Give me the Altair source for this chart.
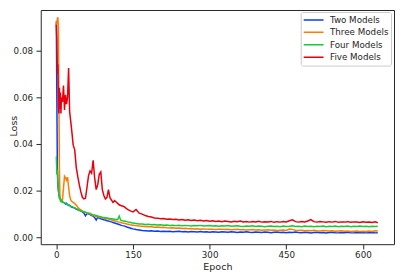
import altair as alt
import pandas as pd

epochs = [0, 1, 2, 3, 4, 5, 6, 7, 8, 9, 10,
          12, 14, 16, 18, 20, 22, 24, 26, 28, 30,
          33, 36, 39, 42, 45, 48, 51, 54, 57, 60,
          63, 66, 69, 72, 75, 78, 81, 84, 87, 90,
          93, 96, 99, 102, 105, 108, 111, 114, 117, 120,
          123, 126, 129, 132, 135, 138, 141, 144, 147, 150,
          156, 162, 168, 174, 180, 186, 192, 198, 204, 210,
          216, 222, 228, 234, 240, 246, 252, 258, 264, 270,
          276, 282, 288, 294, 300, 306, 312, 318, 324, 330,
          336, 342, 348, 354, 360, 366, 372, 378, 384, 390,
          396, 402, 408, 414, 420, 426, 432, 438, 444, 450,
          456, 462, 468, 474, 480, 486, 492, 498, 504, 510,
          516, 522, 528, 534, 540, 546, 552, 558, 564, 570,
          576, 582, 588, 594, 600, 606, 612, 618, 624, 629]

two_models = [0.0925, 0.0600, 0.0300, 0.0230, 0.0200, 0.0185, 0.0175, 0.0168, 0.0163, 0.0160, 0.0157,
              0.0153, 0.0150, 0.0148, 0.0143, 0.0146, 0.0140, 0.0137, 0.0138, 0.0133, 0.0130,
              0.0128, 0.0126, 0.0122, 0.0119, 0.0117, 0.0113, 0.0110, 0.0104, 0.0093, 0.0103,
              0.0100, 0.0098, 0.0094, 0.0092, 0.0085, 0.0075, 0.0086, 0.0083, 0.0080, 0.0078,
              0.0076, 0.0075, 0.0072, 0.0071, 0.0068, 0.0067, 0.0064, 0.0062, 0.0060, 0.0058,
              0.0056, 0.0053, 0.0051, 0.0050, 0.0048, 0.0045, 0.0043, 0.0041, 0.0039, 0.0037,
              0.0034, 0.0032, 0.0030, 0.0029, 0.0028, 0.0029, 0.0027, 0.0028, 0.0026, 0.0027,
              0.0026, 0.0027, 0.0025, 0.0026, 0.0027, 0.0025, 0.0026, 0.0024, 0.0026, 0.0025,
              0.0024, 0.0026, 0.0024, 0.0025, 0.0023, 0.0025, 0.0024, 0.0023, 0.0025, 0.0024,
              0.0023, 0.0025, 0.0024, 0.0022, 0.0024, 0.0023, 0.0025, 0.0023, 0.0022, 0.0024,
              0.0023, 0.0022, 0.0024, 0.0023, 0.0021, 0.0023, 0.0024, 0.0022, 0.0023, 0.0021,
              0.0023, 0.0022, 0.0024, 0.0022, 0.0021, 0.0023, 0.0022, 0.0020, 0.0022, 0.0023,
              0.0021, 0.0022, 0.0020, 0.0022, 0.0023, 0.0021, 0.0020, 0.0022, 0.0021, 0.0023,
              0.0021, 0.0020, 0.0022, 0.0021, 0.0022, 0.0020, 0.0021, 0.0022, 0.0020, 0.0021]

three_models = [0.0905, 0.0920, 0.0935, 0.0942, 0.0900, 0.0600, 0.0300, 0.0180, 0.0160, 0.0155, 0.0153,
                0.0160, 0.0210, 0.0262, 0.0255, 0.0245, 0.0258, 0.0215, 0.0180, 0.0162, 0.0155,
                0.0150, 0.0145, 0.0138, 0.0130, 0.0122, 0.0118, 0.0113, 0.0110, 0.0108, 0.0104,
                0.0102, 0.0100, 0.0097, 0.0095, 0.0092, 0.0090, 0.0089, 0.0087, 0.0086, 0.0084,
                0.0083, 0.0081, 0.0080, 0.0079, 0.0077, 0.0075, 0.0073, 0.0071, 0.0069, 0.0067,
                0.0066, 0.0064, 0.0062, 0.0061, 0.0060, 0.0058, 0.0057, 0.0055, 0.0054, 0.0053,
                0.0051, 0.0049, 0.0048, 0.0047, 0.0046, 0.0046, 0.0044, 0.0045, 0.0043, 0.0044,
                0.0042, 0.0041, 0.0042, 0.0040, 0.0041, 0.0039, 0.0040, 0.0038, 0.0039, 0.0037,
                0.0038, 0.0036, 0.0037, 0.0036, 0.0035, 0.0036, 0.0034, 0.0035, 0.0036, 0.0034,
                0.0035, 0.0033, 0.0034, 0.0035, 0.0033, 0.0034, 0.0032, 0.0033, 0.0034, 0.0032,
                0.0033, 0.0031, 0.0032, 0.0033, 0.0031, 0.0032, 0.0030, 0.0031, 0.0032, 0.0030,
                0.0036, 0.0035, 0.0031, 0.0030, 0.0031, 0.0029, 0.0030, 0.0029, 0.0031, 0.0029,
                0.0028, 0.0030, 0.0029, 0.0028, 0.0029, 0.0027, 0.0028, 0.0029, 0.0027, 0.0028,
                0.0026, 0.0027, 0.0028, 0.0026, 0.0027, 0.0026, 0.0028, 0.0026, 0.0029, 0.0028]

four_models = [0.0347, 0.0270, 0.0290, 0.0235, 0.0210, 0.0185, 0.0165, 0.0172, 0.0158, 0.0162, 0.0155,
               0.0152, 0.0150, 0.0148, 0.0146, 0.0143, 0.0141, 0.0139, 0.0137, 0.0134, 0.0133,
               0.0130, 0.0127, 0.0124, 0.0120, 0.0116, 0.0113, 0.0112, 0.0110, 0.0108, 0.0106,
               0.0105, 0.0103, 0.0100, 0.0098, 0.0097, 0.0094, 0.0092, 0.0090, 0.0089, 0.0087,
               0.0086, 0.0085, 0.0084, 0.0083, 0.0081, 0.0080, 0.0079, 0.0078, 0.0077, 0.0076,
               0.0092, 0.0074, 0.0072, 0.0071, 0.0070, 0.0068, 0.0066, 0.0065, 0.0063, 0.0062,
               0.0060, 0.0058, 0.0058, 0.0056, 0.0057, 0.0055, 0.0056, 0.0054, 0.0055, 0.0053,
               0.0054, 0.0052, 0.0053, 0.0051, 0.0053, 0.0050, 0.0052, 0.0051, 0.0049, 0.0051,
               0.0050, 0.0052, 0.0049, 0.0050, 0.0051, 0.0049, 0.0050, 0.0048, 0.0050, 0.0049,
               0.0051, 0.0048, 0.0049, 0.0050, 0.0048, 0.0047, 0.0049, 0.0048, 0.0050, 0.0047,
               0.0049, 0.0048, 0.0046, 0.0048, 0.0049, 0.0047, 0.0048, 0.0046, 0.0049, 0.0047,
               0.0048, 0.0050, 0.0047, 0.0048, 0.0046, 0.0049, 0.0047, 0.0048, 0.0046, 0.0048,
               0.0047, 0.0049, 0.0046, 0.0048, 0.0047, 0.0049, 0.0046, 0.0048, 0.0047, 0.0049,
               0.0046, 0.0048, 0.0047, 0.0049, 0.0047, 0.0048, 0.0046, 0.0048, 0.0047, 0.0048]

five_models = [0.0910, 0.0850, 0.0700, 0.0740, 0.0560, 0.0530, 0.0640, 0.0550, 0.0620, 0.0530, 0.0600,
               0.0580, 0.0650, 0.0545, 0.0610, 0.0570, 0.0600, 0.0725, 0.0540, 0.0500, 0.0460,
               0.0395, 0.0375, 0.0300, 0.0260, 0.0225, 0.0195, 0.0172, 0.0165, 0.0168, 0.0215,
               0.0265, 0.0285, 0.0275, 0.0330, 0.0255, 0.0205, 0.0225, 0.0270, 0.0280, 0.0205,
               0.0180, 0.0165, 0.0172, 0.0205, 0.0170, 0.0160, 0.0150, 0.0158, 0.0152, 0.0146,
               0.0140, 0.0137, 0.0135, 0.0133, 0.0128, 0.0122, 0.0118, 0.0115, 0.0112, 0.0110,
               0.0120, 0.0104, 0.0100, 0.0094, 0.0090, 0.0088, 0.0084, 0.0083, 0.0080, 0.0081,
               0.0078, 0.0079, 0.0077, 0.0078, 0.0075, 0.0077, 0.0074, 0.0076, 0.0073, 0.0075,
               0.0072, 0.0074, 0.0071, 0.0073, 0.0070, 0.0072, 0.0069, 0.0071, 0.0068, 0.0071,
               0.0069, 0.0067, 0.0070, 0.0068, 0.0071, 0.0067, 0.0069, 0.0066, 0.0069, 0.0067,
               0.0070, 0.0066, 0.0068, 0.0067, 0.0069, 0.0065, 0.0068, 0.0066, 0.0069, 0.0067,
               0.0072, 0.0076, 0.0068, 0.0066, 0.0069, 0.0067, 0.0071, 0.0077, 0.0068, 0.0066,
               0.0069, 0.0067, 0.0065, 0.0068, 0.0066, 0.0069, 0.0065, 0.0067, 0.0066, 0.0068,
               0.0065, 0.0067, 0.0066, 0.0064, 0.0067, 0.0065, 0.0066, 0.0064, 0.0067, 0.0063]

series_names = ["Two Models", "Three Models", "Four Models", "Five Models"]
series_colors = ["#023eff", "#ff7c00", "#1ac938", "#e8000b"]
series_values = [two_models, three_models, four_models, five_models]

x_ticks = [0, 150, 300, 450, 600]
y_ticks = [0.0, 0.02, 0.04, 0.06, 0.08]

rows = []
for name, vals in zip(series_names, series_values):
    for e, v in zip(epochs, vals):
        rows.append({"Epoch": e, "Loss": v, "Model": name})
df = pd.DataFrame(rows)

TXT = "#262626"
FONT = "DejaVu Sans"

chart = alt.Chart(df).mark_line(strokeWidth=1.5).encode(
    x=alt.X("Epoch:Q",
            scale=alt.Scale(domain=[-30.5, 660.8], nice=False, zero=False),
            axis=alt.Axis(values=x_ticks, title="Epoch", labelPadding=2,
                          titleX=178, titleY=25, titleAlign="center",
                          titleBaseline="alphabetic")),
    y=alt.Y("Loss:Q",
            scale=alt.Scale(domain=[-0.00284, 0.09726], nice=False, zero=False),
            axis=alt.Axis(values=y_ticks, format=".2f", title="Loss", labelPadding=3.5,
                          titleX=-24, titleY=116.5, titleAngle=270, titleAlign="center",
                          titleBaseline="alphabetic")),
    color=alt.Color("Model:N",
                    scale=alt.Scale(domain=series_names, range=series_colors),
                    legend=alt.Legend(orient="none", legendX=262, legendY=2, title=None,
                                      symbolType="stroke", symbolSize=400,
                                      symbolStrokeWidth=1.5, labelFont=FONT,
                                      labelFontSize=8.8, labelColor=TXT, labelOffset=5.5,
                                      padding=2, clipHeight=12, rowPadding=0.5,
                                      strokeColor="#cccccc", cornerRadius=2,
                                      fillColor="white")),
).properties(
    width=356, height=236,
    padding={"left": 33, "top": 1, "right": 1, "bottom": 28},
    autosize=alt.AutoSizeParams(type="none"),
    background="white",
).configure_view(
    stroke=TXT, strokeWidth=1
).configure_axis(
    domain=False, grid=False,
    labelFont=FONT, labelFontSize=8.8, labelColor=TXT,
    tickColor=TXT, tickSize=4.8, tickWidth=1,
    titleFont=FONT, titleFontSize=9.6, titleFontWeight="normal", titleColor=TXT,
)

chart.save("out.html", embed_options={"renderer": "svg", "actions": False})
